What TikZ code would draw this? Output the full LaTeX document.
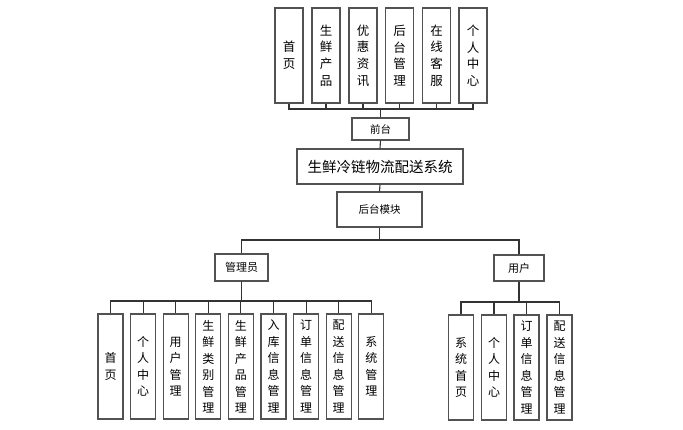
\documentclass[tikz,border=0pt]{standalone}
\usepackage{fontspec}
\setmainfont{Noto Sans CJK SC}
\begin{document}
\begin{tikzpicture}[x=1pt,y=-1pt,
  box/.style={draw=black!68,line width=1.2pt,fill=white,inner sep=0pt,align=center},
  vbox/.style={box,minimum width=25pt,minimum height=105pt,font=\fontsize{12}{16.5}\selectfont},
  tbox/.style={box,minimum width=28pt,minimum height=95pt,font=\fontsize{12.5}{16.7}\selectfont},
  link/.style={draw=black!80,line width=1.1pt}]
\useasboundingbox (0,0) rectangle (683,430);
% top row
\node[tbox] (t1) at (289,55.5) {首\\页};
\node[tbox] (t2) at (326,55.5) {生\\鲜\\产\\品};
\node[tbox] (t3) at (363,55.5) {优\\惠\\资\\讯};
\node[tbox] (t4) at (399.5,55.5) {后\\台\\管\\理};
\node[tbox] (t5) at (436.5,55.5) {在\\线\\客\\服};
\node[tbox] (t6) at (473,55.5) {个\\人\\中\\心};
\node[box,minimum width=57pt,minimum height=22pt,font=\fontsize{10.5}{12}\selectfont] (qt) at (380.5,129) {前台};
\node[box,minimum width=166pt,minimum height=35pt,font=\fontsize{14.5}{16}\selectfont] (sys) at (380,166.5) {生鲜冷链物流配送系统};
\node[box,minimum width=85pt,minimum height=35pt,font=\fontsize{10.5}{12}\selectfont] (ht) at (379.5,209.5) {后台模块};
\node[box,minimum width=53pt,minimum height=27pt,font=\fontsize{11}{12}\selectfont] (adm) at (241.5,267.5) {管理员};
\node[box,minimum width=50pt,minimum height=26pt,font=\fontsize{11}{12}\selectfont] (usr) at (519,268) {用户};
% admin children
\node[vbox] (a1) at (110.5,366.5) {首\\页};
\node[vbox] (a2) at (143.1,366.5) {个\\人\\中\\心};
\node[vbox] (a3) at (175.7,366.5) {用\\户\\管\\理};
\node[vbox] (a4) at (208.3,366.5) {生\\鲜\\类\\别\\管\\理};
\node[vbox] (a5) at (240.9,366.5) {生\\鲜\\产\\品\\管\\理};
\node[vbox] (a6) at (273.5,366.5) {入\\库\\信\\息\\管\\理};
\node[vbox] (a7) at (306.1,366.5) {订\\单\\信\\息\\管\\理};
\node[vbox] (a8) at (338.7,366.5) {配\\送\\信\\息\\管\\理};
\node[vbox] (a9) at (371.3,366.5) {系\\统\\管\\理};
% user children
\node[vbox] (u1) at (461,367.5) {系\\统\\首\\页};
\node[vbox] (u2) at (494,367.5) {个\\人\\中\\心};
\node[vbox] (u3) at (526.5,367.5) {订\\单\\信\\息\\管\\理};
\node[vbox] (u4) at (559.5,367.5) {配\\送\\信\\息\\管\\理};
% bus coordinates
\coordinate (tb) at (380.5,109);
\coordinate (hb) at (379.5,240);
\coordinate (ab) at (241.5,301);
\coordinate (ub) at (519,302);
% connectors
\foreach \i in {1,...,6} \draw[link] (qt.north) -- (tb) -| (t\i.south);
\draw[link] (qt.south) -- (sys.north);
\draw[link] (sys.south) -- (ht.north);
\draw[link] (ht.south) -- (hb) -| (adm.north);
\draw[link] (hb) -| (usr.north);
\foreach \i in {1,...,9} \draw[link] (adm.south) -- (ab) -| (a\i.north);
\foreach \i in {1,...,4} \draw[link] (usr.south) -- (ub) -| (u\i.north);
\end{tikzpicture}
\end{document}
